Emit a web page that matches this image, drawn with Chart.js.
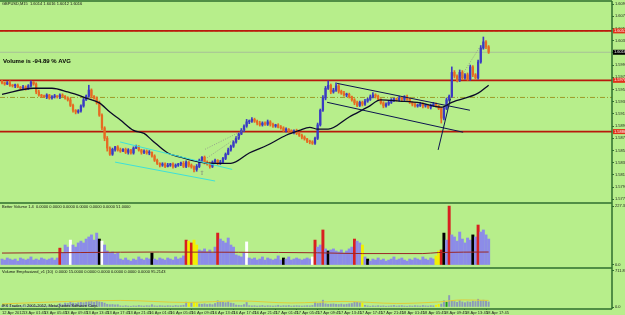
<!DOCTYPE html>
<html>
<head>
<meta charset="utf-8">
<title>GBPUSD,M15</title>
<script src="https://cdn.jsdelivr.net/npm/chart.js@4.4.1/dist/chart.umd.min.js"></script>
<style>
  html, body { margin: 0; padding: 0; background: #b7ee8b; overflow: hidden; }
  #wrap { width: 625px; height: 315px; }
</style>
</head>
<body>
<div id="wrap"><canvas id="grafico" width="625" height="315"></canvas></div>
<script>
// --- Datos (velas de 30 min) ---
const timeLabels = ['12 Apr 2012', '13 Apr 01:45', '13 Apr 05:45', '13 Apr 09:45', '13 Apr 13:45', '13 Apr 17:45',
    '13 Apr 21:45', '16 Apr 01:45', '16 Apr 05:45', '16 Apr 09:45', '16 Apr 13:45', '16 Apr 17:45',
    '16 Apr 21:45', '17 Apr 01:45', '17 Apr 05:45', '17 Apr 09:45', '17 Apr 13:45', '17 Apr 17:45',
    '17 Apr 21:45', '18 Apr 01:45', '18 Apr 05:45', '18 Apr 09:45', '18 Apr 13:45', '18 Apr 17:45'];

const priceTicks = [1.5775, 1.5795, 1.5815, 1.5835, 1.5855, 1.5875, 1.5895, 1.5915, 1.5935,
    1.5955, 1.5975, 1.5995, 1.6015, 1.6035, 1.6055, 1.6075, 1.6095];

const firstOpen = 1.5968;
const closes = [
    1.5966, 1.5964, 1.5966, 1.5962, 1.5961, 1.5962, 1.5959, 1.5957, 1.5959, 1.5956,
    1.5961, 1.5967, 1.5964, 1.5951, 1.5946, 1.5944, 1.5943, 1.5946, 1.5941, 1.5943,
    1.5944, 1.5943, 1.5946, 1.5944, 1.5941, 1.5938, 1.5929, 1.5921, 1.5918, 1.5920,
    1.5928, 1.5938, 1.5944, 1.5954, 1.5944, 1.5941, 1.5933, 1.5913, 1.5892, 1.5875,
    1.5859, 1.5849, 1.5857, 1.5861, 1.5856, 1.5854, 1.5857, 1.5852, 1.5856, 1.5851,
    1.5859, 1.5861, 1.5856, 1.5852, 1.5854, 1.5851, 1.5852, 1.5846, 1.5839, 1.5834,
    1.5831, 1.5833, 1.5829, 1.5831, 1.5833, 1.5829, 1.5831, 1.5833, 1.5834, 1.5829,
    1.5836, 1.5831, 1.5828, 1.5824, 1.5829, 1.5839, 1.5844, 1.5836, 1.5833, 1.5829,
    1.5836, 1.5839, 1.5834, 1.5836, 1.5842, 1.5849, 1.5856, 1.5862, 1.5869, 1.5875,
    1.5882, 1.5888, 1.5895, 1.5902, 1.5903, 1.5906, 1.5903, 1.5900, 1.5897, 1.5900,
    1.5898, 1.5902, 1.5898, 1.5895, 1.5897, 1.5893, 1.5892, 1.5888, 1.5890, 1.5887,
    1.5885, 1.5887, 1.5883, 1.5880, 1.5877, 1.5874, 1.5870, 1.5869, 1.5867, 1.5875,
    1.5897, 1.5921, 1.5941, 1.5957, 1.5962, 1.5951, 1.5954, 1.5961, 1.5952, 1.5949,
    1.5946, 1.5947, 1.5943, 1.5938, 1.5933, 1.5929, 1.5934, 1.5931, 1.5936, 1.5939,
    1.5943, 1.5946, 1.5944, 1.5939, 1.5933, 1.5928, 1.5931, 1.5934, 1.5938, 1.5939,
    1.5938, 1.5941, 1.5939, 1.5943, 1.5939, 1.5934, 1.5931, 1.5928, 1.5929, 1.5931,
    1.5928, 1.5929, 1.5926, 1.5929, 1.5931, 1.5928, 1.5924, 1.5908, 1.5924, 1.5938,
    1.5944, 1.5983, 1.5977, 1.5970, 1.5983, 1.5974, 1.5979, 1.5972, 1.5992, 1.5979,
    1.5974, 1.6000, 1.6023, 1.6033, 1.6025, 1.6016
];

// mechas en pips por encima / por debajo del cuerpo
const wickUp = [
    2, 1, 2, 3, 1, 2, 2, 1, 3, 2,  2, 2, 1, 2, 3, 1, 2, 2, 1, 2,
    3, 1, 2, 2, 1, 2, 3, 2, 1, 2,  2, 3, 2, 8, 2, 1, 2, 3, 2, 2,
    3, 2, 2, 1, 2, 3, 1, 2, 2, 1,  2, 3, 2, 1, 2, 2, 3, 1, 2, 2,
    1, 2, 2, 3, 1, 2, 2, 1, 2, 3,  2, 1, 2, 2, 3, 2, 1, 2, 2, 3,
    2, 2, 1, 3, 2, 2, 3, 2, 2, 3,  2, 3, 2, 4, 2, 3, 2, 2, 3, 2,
    2, 3, 2, 2, 1, 2, 3, 2, 2, 1,  2, 2, 3, 1, 2, 2, 1, 2, 2, 2,
    3, 2, 4, 3, 7, 2, 3, 5, 2, 2,  3, 2, 2, 1, 2, 3, 2, 2, 3, 2,
    3, 4, 2, 2, 1, 2, 2, 3, 2, 2,  2, 3, 2, 2, 3, 2, 1, 2, 2, 3,
    2, 2, 1, 2, 3, 2, 1, 2, 2, 3,  2, 9, 3, 2, 4, 3, 2, 3, 3, 2,
    2, 3, 4, 8, 2, 2
];
const wickDn = [
    2, 2, 1, 2, 2, 3, 1, 2, 2, 2,  1, 2, 2, 3, 2, 2, 1, 3, 2, 2,
    2, 2, 3, 1, 2, 2, 2, 3, 3, 2,  2, 2, 1, 2, 3, 2, 2, 2, 3, 4,
    5, 2, 2, 3, 2, 2, 1, 2, 3, 2,  2, 1, 2, 3, 2, 2, 3, 2, 2, 2,
    3, 2, 2, 1, 2, 3, 2, 2, 3, 2,  2, 3, 2, 4, 3, 2, 2, 3, 2, 3,
    2, 2, 3, 2, 2, 2, 1, 2, 2, 2,  2, 1, 2, 2, 3, 2, 2, 3, 2, 2,
    2, 2, 3, 2, 2, 1, 2, 2, 3, 2,  2, 3, 2, 2, 3, 2, 2, 3, 2, 2,
    2, 2, 2, 3, 2, 3, 2, 2, 3, 2,  2, 3, 2, 2, 3, 2, 2, 3, 2, 2,
    2, 2, 3, 2, 2, 3, 2, 2, 2, 3,  2, 2, 3, 2, 2, 2, 3, 2, 2, 2,
    3, 2, 2, 3, 2, 2, 2, 8, 3, 2,  2, 2, 3, 2, 2, 3, 2, 2, 2, 3,
    2, 2, 2, 2, 3, 2
];

// media móvil (puntos leídos cada pocas velas)
const maIdx = [0, 12, 19, 25, 32, 37, 41, 45, 50, 54, 57, 63, 68, 75, 81, 87, 94, 101, 108, 113,
    117, 120, 124, 132, 139, 144, 151, 159, 167, 171, 181, 185];
const maVals = [1.5947, 1.5957, 1.5957, 1.5951, 1.5941, 1.5933, 1.5918, 1.5905, 1.5888, 1.5883,
    1.5872, 1.5851, 1.5844, 1.5836, 1.5834, 1.5834, 1.5851, 1.5864, 1.5880, 1.5888,
    1.5893, 1.5890, 1.5890, 1.5910, 1.5926, 1.5938, 1.5936, 1.5933, 1.5926, 1.5934, 1.5949, 1.5962];

// niveles horizontales
const redLevels = [1.6051, 1.5970, 1.5886];
const bidPrice = 1.6016;
const dashDotLevel = 1.5942;

// líneas de tendencia: [vela inicio, precio, vela fin, precio]
const cyanLines = [[44.9, 1.5869, 87.5, 1.5824], [43, 1.5836, 81, 1.5805]];
const navyLines = [[127.4, 1.5965, 177.9, 1.5921], [123.6, 1.5934, 175.3, 1.5885], [165.8, 1.5856, 170.5, 1.5940]];
const grayDotLines = [[77.2, 1.5857, 93.5, 1.5892], [78, 1.5843, 91.6, 1.5883], [173, 1.5966, 181.7, 1.6025]];
const arrowMarks = [[76, 1.5818]];

// volumen (Better Volume)
const volumes = [
    23, 19, 27, 23, 19, 23, 15, 27, 23, 19,  23, 31, 19, 23, 19, 27, 23, 19, 23, 27,
    19, 27, 65, 46, 77, 69, 96, 77, 69, 85,  92, 85, 100, 108, 116, 96, 123, 100, 92, 77,
    54, 46, 50, 42, 46, 23, 19, 27, 19, 15,  23, 19, 31, 23, 19, 27, 23, 46, 23, 19,
    27, 23, 19, 27, 23, 19, 31, 23, 27, 35,  96, 92, 85, 96, 77, 58, 54, 62, 50, 58,
    46, 69, 123, 100, 92, 85, 104, 77, 69, 39,  35, 31, 46, 89, 27, 23, 27, 19, 23, 31,
    19, 27, 23, 19, 23, 35, 19, 27, 23, 31,  19, 23, 27, 23, 19, 23, 27, 23, 31, 96,
    69, 77, 135, 62, 54, 58, 62, 54, 50, 58,  46, 54, 62, 69, 100, 92, 85, 77, 31, 23,
    15, 23, 19, 27, 19, 23, 15, 19, 23, 31,  19, 23, 27, 19, 15, 23, 19, 27, 23, 19,
    31, 23, 19, 27, 23, 35, 54, 58, 123, 96,  227, 116, 108, 92, 127, 100, 85, 104, 96, 116,
    108, 154, 127, 135, 116, 100
];
const volRed = [22, 70, 72, 82, 119, 122, 134, 167, 170, 181];
const volWhite = [26, 38, 93, 118];
const volBlack = [37, 57, 107, 124, 139, 168, 179];
const volYellow = [71, 73, 74, 137, 165, 166];
const volTicks = [0, 227.3];
const volAvgIdx = [0, 30, 60, 90, 120, 137, 160, 166, 185];
const volAvgVals = [46, 48, 50, 49, 47, 44, 44, 48, 50];

// Volume Emphasized
const emphGreen = [169];
const emphTicks = [0, 711.8];
const emphAvgIdx = [0, 25, 45, 70, 90, 110, 130, 150, 166, 175, 185];
const emphAvgVals = [60, 110, 130, 90, 120, 80, 110, 70, 100, 140, 130];

// --- Estilos ---
const FONDO = '#b7ee8b';
const BORDE = '#2e6e2e';
const ALCISTA = '#3a3ac4';
const BAJISTA = '#e66a22';
const FUENTE = 'Liberation Sans';
const xMin = -0.76;
const xMax = 231.9;

const idx = closes.map((_, i) => i);
const opens = closes.map((c, i) => i === 0 ? firstOpen : closes[i - 1]);
const pip = 0.0001;
const highs = closes.map((c, i) => Math.max(c, opens[i]) + wickUp[i] * pip);
const lows = closes.map((c, i) => Math.min(c, opens[i]) - wickDn[i] * pip);
const colorVela = i => closes[i] >= opens[i] ? ALCISTA : BAJISTA;

const colorVolumen = i => {
    if (volRed.includes(i)) return '#d82020';
    if (volWhite.includes(i)) return '#ffffff';
    if (volBlack.includes(i)) return '#000000';
    if (volYellow.includes(i)) return '#f2f000';
    return '#8c8ce8';
};
const colorEmph = i => {
    if (volYellow.includes(i)) return '#f2f000';
    if (emphGreen.includes(i)) return '#1f9a1f';
    return '#8c9ab8';
};

const lineaH = (nivel, color, ancho, dash) => ({
    type: 'line',
    data: [{ x: xMin, y: nivel }, { x: xMax, y: nivel }],
    borderColor: color, borderWidth: ancho, borderDash: dash || [],
    pointRadius: 0, yAxisID: 'y', order: 8
});
const segmento = (s, color, ancho, dash) => ({
    type: 'line',
    data: [{ x: s[0], y: s[1] }, { x: s[2], y: s[3] }],
    borderColor: color, borderWidth: ancho, borderDash: dash || [],
    pointRadius: 0, yAxisID: 'y', order: 1
});
const curva = (xs, ys, color, ancho, eje, orden) => ({
    type: 'line',
    data: xs.map((x, k) => ({ x: x, y: ys[k] })),
    borderColor: color, borderWidth: ancho, cubicInterpolationMode: 'monotone',
    pointRadius: 0, yAxisID: eje, order: orden
});

const datasets = [
    ...cyanLines.map(s => segmento(s, '#3ee0d8', 1)),
    ...navyLines.map(s => segmento(s, '#0c1450', 1)),
    ...grayDotLines.map(s => segmento(s, '#8a8a8a', 0.8, [1, 1.5])),
    curva(maIdx, maVals, '#0a0a28', 1.3, 'y', 2),
    {
        type: 'bar', grouped: false, yAxisID: 'y', order: 4,
        data: idx.map(i => ({ x: i, y: [lows[i], highs[i]] })),
        backgroundColor: ctx => colorVela(ctx.dataIndex), barThickness: 1
    },
    {
        type: 'bar', grouped: false, yAxisID: 'y', order: 3, minBarLength: 1,
        data: idx.map(i => ({ x: i, y: [opens[i], closes[i]] })),
        backgroundColor: ctx => colorVela(ctx.dataIndex), barThickness: 1.6
    },
    ...redLevels.map(v => lineaH(v, '#b8180c', 1.6)),
    lineaH(redLevels[0], '#f06a1a', 1, [3, 2]),
    lineaH(dashDotLevel, '#9c9a2a', 1, [5, 2, 1, 2]),
    lineaH(bidPrice, '#a3b59c', 0.8),
    {
        type: 'bar', grouped: false, yAxisID: 'yv', order: 5,
        data: idx.map(i => ({ x: i, y: volumes[i] })),
        backgroundColor: ctx => colorVolumen(ctx.dataIndex), barThickness: 2.3
    },
    curva(volAvgIdx, volAvgVals, '#9a2626', 1, 'yv', 2),
    {
        type: 'bar', grouped: false, yAxisID: 'ye', order: 5,
        data: idx.map(i => ({ x: i, y: volumes[i] })),
        backgroundColor: ctx => colorEmph(ctx.dataIndex), barThickness: 1.3
    },
    curva(emphAvgIdx, emphAvgVals, '#e0cc3a', 1, 'ye', 2)
];

const ejeY = (peso, min, max, valores, formato) => ({
    type: 'linear', position: 'right', stack: 'paneles', stackWeight: peso,
    min: min, max: max, offset: false,
    grid: { drawOnChartArea: false, tickLength: 2, color: BORDE, offset: false },
    border: { display: false },
    ticks: { autoSkip: false, padding: 1, color: '#1c1c1c', font: { size: 4, family: FUENTE }, callback: formato },
    afterBuildTicks: s => { s.ticks = valores.map(v => ({ value: v })); },
    afterFit: s => { s.width = 13; s.paddingTop = 0; s.paddingBottom = 0; }
});

// Fondo, bordes de paneles y textos
const decorado = {
    id: 'decorado',
    beforeDraw(chart) {
        const { ctx, width, height } = chart;
        ctx.save();
        ctx.fillStyle = FONDO;
        ctx.fillRect(0, 0, width, height);
        ctx.restore();
    },
    afterDraw(chart) {
        const { ctx, chartArea } = chart;
        const y = chart.scales.y, yv = chart.scales.yv, ye = chart.scales.ye, x = chart.scales.x;
        ctx.save();
        ctx.strokeStyle = BORDE;
        ctx.lineWidth = 1.5;
        [chartArea.top, y.bottom, yv.bottom, chartArea.bottom].forEach(py => {
            ctx.beginPath(); ctx.moveTo(0, py); ctx.lineTo(chartArea.right, py); ctx.stroke();
        });
        ctx.beginPath(); ctx.moveTo(chartArea.right, chartArea.top); ctx.lineTo(chartArea.right, chartArea.bottom); ctx.stroke();

        // etiquetas de precio en el eje
        const etiquetas = redLevels.map(v => ({ v: v, bg: '#e0301a', fg: '#ffffff' }));
        etiquetas.push({ v: bidPrice, bg: '#000000', fg: '#ffffff' });
        ctx.font = '4px ' + FUENTE;
        ctx.textBaseline = 'middle';
        etiquetas.forEach(e => {
            const py = y.getPixelForValue(e.v);
            ctx.fillStyle = e.bg;
            ctx.fillRect(chartArea.right + 1, py - 2.5, 12, 5);
            ctx.fillStyle = e.fg;
            ctx.fillText(e.v.toFixed(4), chartArea.right + 2, py);
        });

        // flecha
        ctx.fillStyle = '#7a7a7a';
        ctx.font = '6px "DejaVu Sans"';
        ctx.textAlign = 'center';
        arrowMarks.forEach(m => ctx.fillText('⇧', x.getPixelForValue(m[0]), y.getPixelForValue(m[1])));

        // textos
        ctx.textAlign = 'left';
        ctx.fillStyle = '#111111';
        ctx.font = '4px ' + FUENTE;
        ctx.fillText('GBPUSD,M15  1.6014 1.6016 1.6012 1.6016', 2, y.top + 3);
        ctx.fillText('Better Volume 1.4  0.0000 0.0000 0.0000 0.0000 0.0000 0.0000 51.0000', 2, yv.top + 4);
        ctx.fillText('Volume Emphasized_v1 (10)  0.0000 15.0000 0.0000 0.0000 0.0000 0.0000 0.0000 95.2143', 2, ye.top + 4);
        ctx.fillText('IFX Trader, © 2001-2012, MetaQuotes Software Corp.', 2, ye.bottom - 3);
        ctx.font = 'bold 6px ' + FUENTE;
        ctx.fillStyle = '#000000';
        ctx.fillText('Volume is -94.89 % AVG', 3, y.top + 60);
        ctx.restore();
    }
};

new Chart(document.getElementById('grafico').getContext('2d'), {
    type: 'bar',
    data: { datasets: datasets },
    plugins: [decorado],
    options: {
        responsive: false,
        animation: false,
        events: [],
        layout: { padding: { top: 1, left: 0, right: 0, bottom: 0 } },
        plugins: { legend: { display: false }, tooltip: { enabled: false }, title: { display: false } },
        scales: {
            x: {
                type: 'linear', position: 'bottom', min: xMin, max: xMax, offset: false,
                grid: { drawOnChartArea: false, tickLength: 1, color: BORDE, offset: false },
                border: { display: false },
                ticks: {
                    autoSkip: false, maxRotation: 0, padding: 0, align: 'start', color: '#1c1c1c',
                    font: { size: 4, family: FUENTE },
                    callback: (v, k) => timeLabels[k]
                },
                afterBuildTicks: s => { s.ticks = timeLabels.map((_, k) => ({ value: k * 8 })); },
                afterFit: s => { s.height = 6; s.paddingLeft = 0; s.paddingRight = 0; }
            },
            y: ejeY(202, 1.5769, 1.6100, priceTicks, v => v.toFixed(4)),
            yv: ejeY(65, -11.6, 238.9, volTicks, v => v.toFixed(1)),
            ye: ejeY(41, -39.5, 771.1, emphTicks, v => v.toFixed(1))
        }
    }
});
</script>
</body>
</html>
